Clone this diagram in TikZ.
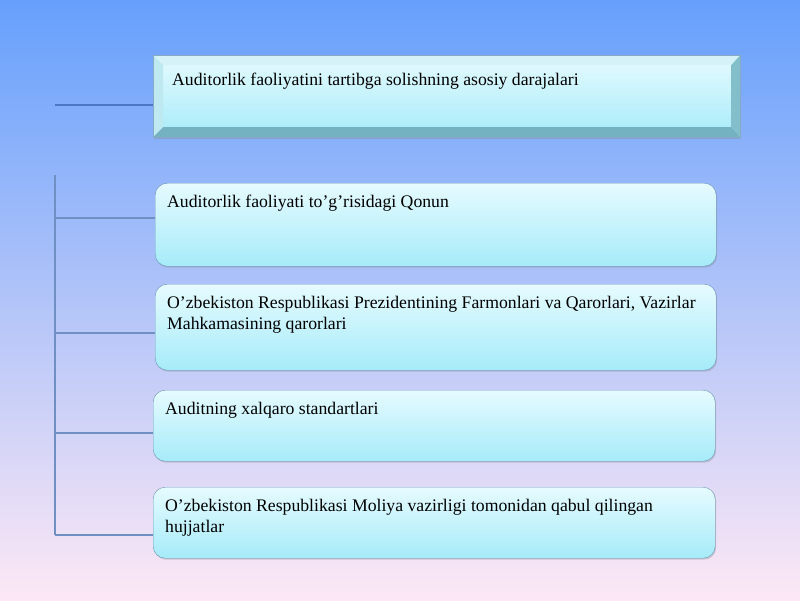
\documentclass[tikz,border=0pt]{standalone}
\usepackage{fontspec}
\setmainfont{Liberation Serif}
\usetikzlibrary{shadows}

\definecolor{bgtop}{HTML}{66A0FC}
\definecolor{bgmid}{HTML}{B2C2F8}
\definecolor{bgbot}{HTML}{FDE8F5}
\definecolor{boxtop}{HTML}{E6FBFF}
\definecolor{boxbot}{HTML}{A6EBF9}
\definecolor{boxline}{HTML}{6A94B4}
\definecolor{bevtop}{HTML}{D4F2F8}
\definecolor{bevleft}{HTML}{BEE9F1}
\definecolor{bevright}{HTML}{82BFCB}
\definecolor{bevbot}{HTML}{74B2C2}
\definecolor{linkline}{HTML}{7090C4}
\definecolor{linktop}{HTML}{4A78C4}

\newcommand{\boxtext}[3]{\parbox[t][#1][t]{#2}{\raggedright\strut #3}}
\def\ppbb{path picture bounding box}

\tikzset{
  levelbox/.style={draw=boxline, rounded corners=12pt, top color=boxtop, bottom color=boxbot,
    anchor=north west, inner xsep=12pt, inner ysep=9.3pt,
    drop shadow={shadow xshift=1pt, shadow yshift=-1.5pt, opacity=0.3},
    font=\fontsize{17.7}{21}\selectfont},
  bevelbox/.style={draw=boxline!80, top color=boxtop, bottom color=boxbot,
    anchor=north west, inner xsep=19pt, inner ysep=15.3pt,
    drop shadow={shadow xshift=1pt, shadow yshift=-1.5pt, opacity=0.3},
    font=\fontsize{17.7}{21}\selectfont,
    path picture={
      \fill[bevtop] (\ppbb.north west) -- (\ppbb.north east) -- ([shift={(-9,10)}]\ppbb.north east) -- ([shift={(10,10)}]\ppbb.north west) -- cycle;
      \fill[bevleft] (\ppbb.north west) -- ([shift={(10,10)}]\ppbb.north west) -- ([shift={(10,-10)}]\ppbb.south west) -- (\ppbb.south west) -- cycle;
      \fill[bevright] (\ppbb.north east) -- ([shift={(-9,10)}]\ppbb.north east) -- ([shift={(-9,-10)}]\ppbb.south east) -- (\ppbb.south east) -- cycle;
      \fill[bevbot] (\ppbb.south west) -- ([shift={(10,-10)}]\ppbb.south west) -- ([shift={(-9,-10)}]\ppbb.south east) -- (\ppbb.south east) -- cycle;
    }},
  link/.style={linkline, line width=1.5pt}
}

\begin{document}
\begin{tikzpicture}[x=1pt, y=-1pt]
  \fill[top color=bgtop, middle color=bgmid, bottom color=bgbot] (0,0) rectangle (800,600);
  \useasboundingbox (0,0) rectangle (800,600);

  \node [bevelbox] (darajalar) at (153,55)
    {\boxtext{51.4pt}{549pt}{Auditorlik faoliyatini tartibga solishning asosiy darajalari}};
  \node [levelbox] (qonun) at (155,183)
    {\boxtext{64.4pt}{537pt}{Auditorlik faoliyati to’g’risidagi Qonun}};
  \node [levelbox] (farmon) at (155,284)
    {\boxtext{67.4pt}{537pt}{O’zbekiston Respublikasi Prezidentining Farmonlari va Qarorlari, Vazirlar\\ Mahkamasining qarorlari}};
  \node [levelbox] (standart) at (153,390)
    {\boxtext{52.4pt}{538pt}{Auditning xalqaro standartlari}};
  \node [levelbox] (moliya) at (153,487)
    {\boxtext{52.4pt}{538pt}{O’zbekiston Respublikasi Moliya vazirligi tomonidan qabul qilingan\\ hujjatlar}};

  \coordinate (spinetop) at (55,175);
  \foreach \n/\y in {1/105, 2/218, 3/333, 4/433, 5/535} {
    \coordinate (b\n) at (55,\y);
  }
  \draw [link, linktop] (b1) -- (b1 -| darajalar.west);
  \draw [link] (spinetop) -- (b5);
  \foreach \n/\target in {2/qonun, 3/farmon, 4/standart, 5/moliya} {
    \draw [link] (b\n) -- (b\n -| \target.west);
  }
\end{tikzpicture}
\end{document}
